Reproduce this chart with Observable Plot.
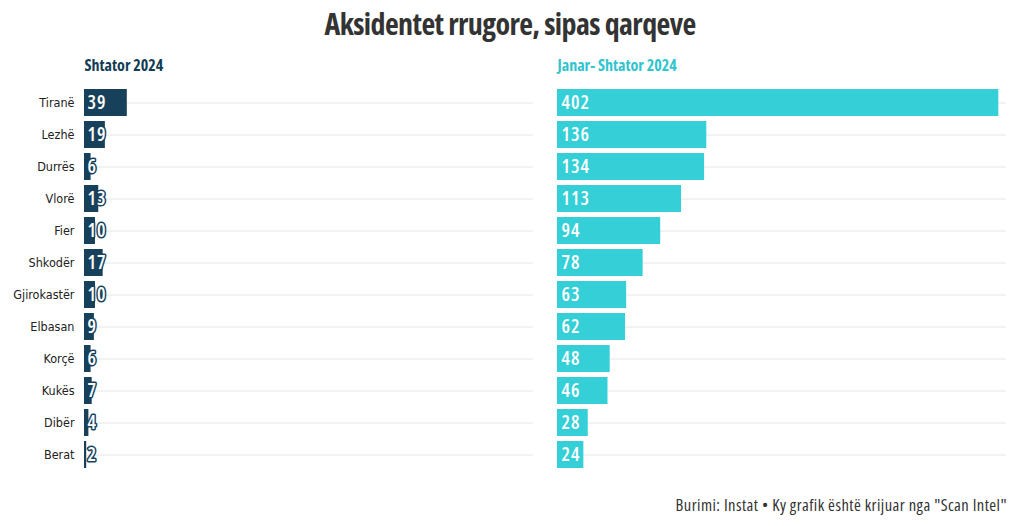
<!DOCTYPE html>
<html>
<head>
<meta charset="utf-8">
<script src="https://cdn.jsdelivr.net/npm/d3@7"></script>
<script src="https://cdn.jsdelivr.net/npm/@observablehq/plot@0.6"></script>
<style>
  html, body { margin: 0; padding: 0; background: #fff; }
  body { width: 1020px; height: 526px; position: relative; overflow: hidden;
         font-family: "DejaVu Sans Condensed", "DejaVu Sans", sans-serif; }
  #title { position: absolute; left: 0; top: 3px; width: 1020px; text-align: center;
           font-family: "Open Sans", sans-serif; font-stretch: 75%;
           font-size: 30px; font-weight: bold; color: #333; letter-spacing: -0.6px; }
  #chart { position: absolute; left: 0; top: 50px; }
  #caption { position: absolute; right: 13px; top: 493px; font-size: 16.5px; color: #333;
             font-family: "Open Sans", sans-serif; font-stretch: 75%; letter-spacing: 0.45px; white-space: nowrap; }
  .cond text { font-family: "Open Sans", sans-serif; font-stretch: 75%; letter-spacing: 1px; }
  .hdr text { font-family: "Open Sans", sans-serif; font-stretch: 75%; }
</style>
</head>
<body>
<div id="title">Aksidentet rrugore, sipas qarqeve</div>
<div id="chart"></div>
<div id="caption">Burimi: Instat • Ky grafik është krijuar nga "Scan Intel"</div>
<script>
const regions = ["Tiranë","Lezhë","Durrës","Vlorë","Fier","Shkodër","Gjirokastër","Elbasan","Korçë","Kukës","Dibër","Berat"];
const shtator2024 = [39,19,6,13,10,17,10,9,6,7,4,2];
const janarShtator2024 = [402,136,134,113,94,78,63,62,48,46,28,24];
const periods = ["Shtator 2024","Janar- Shtator 2024"];

const left = regions.map((r,i) => ({region: r, period: periods[0], value: shtator2024[i]}));
const right = regions.map((r,i) => ({region: r, period: periods[1], value: janarShtator2024[i]}));
const all = left.concat(right);

const navy = "#17415a";
const cyan = "#35cfd8";
const font = '"DejaVu Sans Condensed", "DejaVu Sans", sans-serif';

const chart = Plot.plot({
  width: 1020,
  height: 430,
  marginLeft: 84,
  marginRight: 13,
  marginTop: 32,
  marginBottom: 5,
  style: {fontFamily: font, fontSize: "12px", color: "#222", background: "transparent"},
  fx: {domain: periods, paddingInner: 0.05, paddingOuter: 0, axis: null, label: null},
  x: {domain: [0, 409], axis: null},
  y: {domain: regions, paddingInner: 0.16, paddingOuter: 0.16, label: null, tickSize: 0, tickPadding: 10},
  marks: [
    Plot.ruleY(all, {fx: "period", y: "region", stroke: "#e6e6e6", strokeWidth: 1}),
    Plot.barX(left, {fx: "period", y: "region", x: "value", fill: navy}),
    Plot.barX(right, {fx: "period", y: "region", x: "value", fill: cyan}),
    Plot.text(left, {fx: "period", y: "region", x: 0, text: d => String(d.value), dx: 3, textAnchor: "start",
      fill: "white", stroke: navy, strokeWidth: 3, fontSize: 19, fontWeight: 600, className: "cond"}),
    Plot.text(right, {fx: "period", y: "region", x: 0, text: d => String(d.value), dx: 4, textAnchor: "start",
      fill: "white", fontSize: 19, fontWeight: 600, className: "cond"}),
    Plot.text([periods[0]], {fx: d => d, text: d => d, frameAnchor: "top-left", dy: -17, lineAnchor: "middle",
      fill: "#123c55", fontSize: 16, fontWeight: "bold", className: "hdr"}),
    Plot.text([periods[1]], {fx: d => d, text: d => d, frameAnchor: "top-left", dy: -17, lineAnchor: "middle",
      fill: "#2fc4ce", fontSize: 16, fontWeight: "bold", className: "hdr"}),
    Plot.axisY({tickSize: 0, tickPadding: 10, fontSize: 12.5, label: null})
  ]
});
document.getElementById("chart").appendChild(chart);
</script>
</body>
</html>
